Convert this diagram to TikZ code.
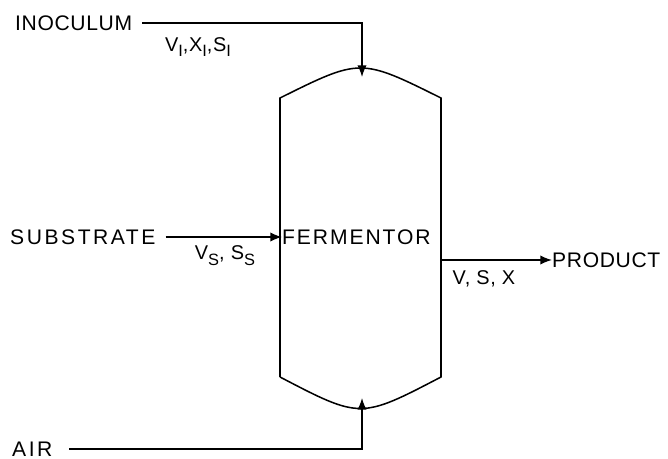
\documentclass[tikz,border=0pt]{standalone}
\usepackage{fontspec}
\setmainfont{Liberation Sans}[LetterSpace=3]
\usetikzlibrary{arrows.meta}
\newcommand{\lowidx}[1]{\raisebox{-0.55ex}{\fontsize{14}{14}\selectfont #1}}
\newcommand{\spread}[1]{\addfontfeature{LetterSpace=#1}}

\begin{document}
\begin{tikzpicture}[
  x=0.03cm, y=-0.03cm,
  tag/.style={font=\fontsize{18}{18}\selectfont, inner sep=0pt},
  stream/.style={font=\fontsize{17}{17}\selectfont, inner sep=0pt},
  line/.style={line width=1.3pt},
  arrow/.style={line, -{Latex[length=10pt,width=8pt]}}
]
\useasboundingbox (0,0) rectangle (668,459);
% vessel
\coordinate (vtop) at (362,77);
\coordinate (vbot) at (362,398);
\coordinate (pout) at (441,260);
\draw[line] (280,377) -- (280,98) .. controls (360.5,58) .. (441,98)
  -- (441,377) .. controls (360.5,419) .. (280,377);
\node[tag, anchor=west] (ferm) at (282,237) {\spread{9}FERMENTOR};

\node[tag, anchor=west] (inoc) at (15,23) {INOCULUM};
\node[tag, anchor=west] (subs) at (10,237) {\spread{12}SUBSTRATE};
\node[tag, anchor=west] (air) at (12,449) {\spread{12}AIR};
\node[tag, anchor=west] (prod) at (552,260) {PRODUCT};

\draw[arrow, shorten <=0.3cm] (inoc.east) -| (vtop);
\draw[arrow, shorten <=0.3cm] (subs.east) -- (ferm.west);
\draw[arrow, shorten <=0.5cm] (air.east) -| (vbot);
\draw[arrow] (pout) -- (prod.west);

\node[stream] (infeed) at (198,47) {V\lowidx{I},X\lowidx{I},S\lowidx{I}};
\node[stream] (subfeed) at (225,256) {V\lowidx{S}, S\lowidx{S}};
\node[stream] (outflow) at (484,279) {V, S, X};
\end{tikzpicture}
\end{document}
